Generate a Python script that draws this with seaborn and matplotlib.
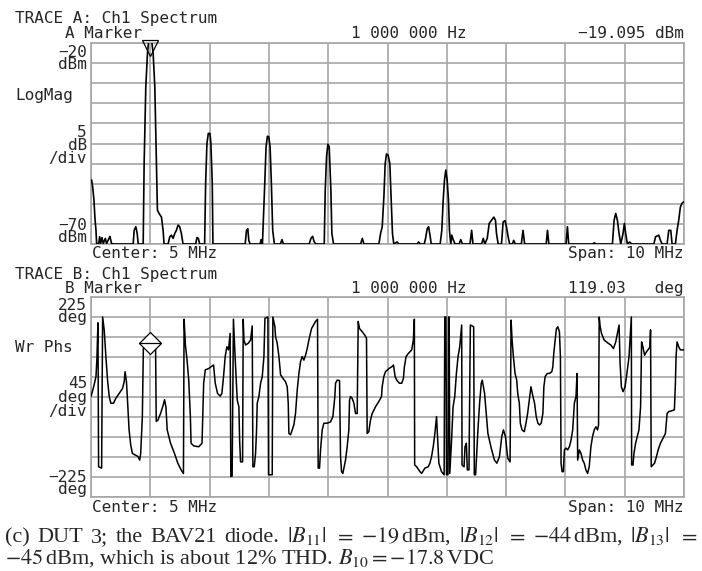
import numpy as np
import pandas as pd
import matplotlib
matplotlib.use("Agg")
import matplotlib.pyplot as plt
import seaborn as sns

# Trace A: spectrum magnitude (MHz, dBm)
freq_a = [0.0, 0.011, 0.028, 0.05, 0.067, 0.084, 0.095, 0.129, 0.146, 0.162, 0.185, 0.207, 0.241, 0.263,
          0.319, 0.347, 0.403, 0.711, 0.728, 0.756, 0.779, 0.796, 0.88, 0.896, 0.924, 0.952, 0.975, 1.02,
          1.048, 1.076, 1.104, 1.12, 1.148, 1.188, 1.216, 1.232, 1.30, 1.328, 1.356, 1.384, 1.412, 1.44,
          1.468, 1.496, 1.524, 1.552, 1.765, 1.787, 1.81, 1.832, 1.916, 1.933, 1.955, 1.978, 2.006, 2.022,
          2.045, 2.056, 2.6, 2.622, 2.644, 2.661, 2.683, 2.852, 2.868, 2.891, 2.93, 2.952, 2.975, 2.997,
          3.02, 3.042, 3.064, 3.092, 3.193, 3.221, 3.244, 3.68, 3.709, 3.737, 3.765, 3.793, 3.933, 3.95,
          3.972, 3.994, 4.017, 4.045, 4.062, 4.09, 4.547, 4.575, 4.603, 4.855, 4.883, 4.911, 4.939, 4.961,
          4.983, 5.011, 5.039, 5.061, 5.084, 5.106, 5.162, 5.19, 5.497, 5.525, 5.553, 5.62, 5.642, 5.67,
          5.693, 5.721, 5.737, 5.888, 5.916, 5.939, 5.961, 5.983, 6.006, 6.028, 6.045, 6.067, 6.084, 6.112,
          6.14, 6.207, 6.235, 6.263, 6.391, 6.419, 6.441, 6.587, 6.615, 6.642, 6.682, 6.715, 6.754, 6.793,
          6.821, 6.838, 6.866, 6.922, 6.95, 6.983, 7.006, 7.034, 7.061, 7.106, 7.128, 7.156, 7.257, 7.285,
          7.313, 7.676, 7.698, 7.721, 8.011, 8.034, 8.056, 8.458, 8.486, 8.514, 8.793, 8.821, 8.849, 8.877,
          8.905, 8.933, 8.972, 8.994, 9.017, 9.045, 9.084, 9.117, 9.492, 9.52, 9.575, 9.603, 9.631, 9.715,
          9.743, 9.777, 9.799, 9.855, 9.883, 9.911, 9.939, 9.966, 10.0]
mag_a = [-54.1, -54.1, -55.8, -59.1, -63.7, -66.6, -69.9, -69.9, -68.2, -69.9, -68.4, -69.9, -68.6, -69.9,
         -68.1, -69.9, -70, -70, -66.6, -65.7, -67.4, -70, -70, -50, -30.9, -22.6, -19.1, -19.1,
         -22.6, -30.9, -50, -61.6, -62.4, -63.3, -66.6, -70, -70, -68.2, -67.8, -68.6, -67.4, -66.6,
         -65.3, -65.7, -67.4, -70, -70, -68.4, -68.6, -70, -70, -55, -45, -42.5, -42.5, -45,
         -55, -70, -70, -66.6, -66.2, -69.1, -70, -70, -68.9, -70, -55, -45.8, -43.2, -43.3,
         -45.8, -55, -66.6, -70, -70, -68.9, -70, -70, -68.6, -68.1, -69.5, -70, -70, -56.6,
         -48.3, -45.2, -45.8, -56.6, -67.4, -70, -70, -68.6, -70, -70, -67.4, -65.7, -58.3, -50,
         -47.6, -47.9, -50, -58.3, -67.4, -70, -69.5, -70, -70, -69.5, -70, -70, -68.6, -66.2,
         -65.7, -68.2, -70, -70, -66.6, -59.1, -54.1, -51.6, -54.1, -59.1, -66.6, -70, -67.8, -69.1,
         -70, -70, -68.9, -70, -70, -66.6, -70, -70, -68.6, -70, -68.6, -64.9, -64.1, -63.3,
         -64.1, -67.4, -70, -70, -64.5, -64.2, -65.7, -68.2, -70, -70, -69.1, -70, -70, -66.6,
         -70, -70, -66.6, -70, -70, -65.7, -70, -70, -69.7, -70, -70, -64.1, -62.4, -64.1,
         -67.4, -70, -67.4, -64.9, -67.4, -70, -69.5, -70, -70, -68.2, -67.8, -69.1, -70, -70,
         -66.6, -66.6, -70, -70, -66.6, -64.1, -60.8, -59.9, -59.5]

# Trace B: wrapped phase (MHz, deg)
freq_b = [0.0, 0.045, 0.084, 0.10, 0.117, 0.128, 0.179, 0.196, 0.223, 0.251, 0.279, 0.307, 0.335, 0.38,
          0.419, 0.475, 0.531, 0.559, 0.575, 0.598, 0.615, 0.642, 0.670, 0.698, 0.754, 0.793, 0.821, 0.838,
          0.866, 0.883, 0.94, 1.0, 1.089, 1.10, 1.128, 1.173, 1.218, 1.24, 1.263, 1.285, 1.341, 1.408,
          1.464, 1.52, 1.559, 1.57, 1.592, 1.62, 1.648, 1.676, 1.687, 1.732, 1.816, 1.872, 1.9, 1.927,
          1.983, 2.067, 2.095, 2.134, 2.179, 2.207, 2.235, 2.263, 2.291, 2.318, 2.346, 2.358, 2.38, 2.402,
          2.43, 2.466, 2.494, 2.506, 2.522, 2.556, 2.567, 2.579, 2.607, 2.652, 2.691, 2.719, 2.73, 2.753,
          2.775, 2.792, 2.803, 2.831, 2.86, 2.888, 2.916, 2.933, 2.983, 2.994, 3.056, 3.067, 3.101, 3.112,
          3.14, 3.169, 3.197, 3.236, 3.281, 3.309, 3.326, 3.337, 3.365, 3.393, 3.421, 3.449, 3.478, 3.506,
          3.534, 3.562, 3.59, 3.618, 3.646, 3.674, 3.719, 3.787, 3.82, 3.831, 3.854, 3.871, 3.899, 3.927,
          3.983, 4.039, 4.079, 4.112, 4.124, 4.152, 4.191, 4.208, 4.225, 4.247, 4.292, 4.32, 4.348, 4.36,
          4.376, 4.404, 4.433, 4.461, 4.489, 4.506, 4.528, 4.573, 4.618, 4.646, 4.657, 4.685, 4.713, 4.742,
          4.798, 4.854, 4.899, 4.91, 4.938, 4.966, 5.034, 5.073, 5.101, 5.128, 5.156, 5.201, 5.24, 5.268,
          5.285, 5.313, 5.352, 5.38, 5.408, 5.436, 5.453, 5.458, 5.492, 5.547, 5.575, 5.631, 5.687, 5.715,
          5.743, 5.771, 5.799, 5.827, 5.844, 5.866, 5.911, 5.955, 5.966, 5.985, 5.995, 6.02, 6.03, 6.04,
          6.05, 6.078, 6.106, 6.134, 6.162, 6.19, 6.218, 6.235, 6.251, 6.257, 6.291, 6.307, 6.33, 6.346,
          6.374, 6.397, 6.453, 6.464, 6.486, 6.508, 6.525, 6.553, 6.581, 6.598, 6.637, 6.665, 6.693, 6.749,
          6.804, 6.844, 6.888, 6.927, 6.955, 6.989, 7.028, 7.067, 7.084, 7.101, 7.123, 7.151, 7.179, 7.196,
          7.223, 7.24, 7.268, 7.307, 7.335, 7.363, 7.391, 7.419, 7.453, 7.48, 7.508, 7.536, 7.564, 7.592,
          7.62, 7.637, 7.659, 7.693, 7.732, 7.771, 7.788, 7.804, 7.827, 7.849, 7.872, 7.899, 7.916, 7.927,
          7.944, 7.966, 7.983, 8.011, 8.039, 8.067, 8.095, 8.123, 8.151, 8.179, 8.196, 8.207, 8.235, 8.263,
          8.291, 8.318, 8.346, 8.374, 8.402, 8.43, 8.458, 8.486, 8.514, 8.542, 8.559, 8.57, 8.587, 8.609,
          8.654, 8.721, 8.765, 8.81, 8.849, 8.888, 8.905, 8.922, 8.944, 8.972, 9.006, 9.045, 9.073, 9.089,
          9.112, 9.117, 9.14, 9.156, 9.184, 9.212, 9.24, 9.268, 9.285, 9.307, 9.335, 9.369, 9.408, 9.425,
          9.436, 9.447, 9.503, 9.536, 9.564, 9.603, 9.659, 9.687, 9.715, 9.743, 9.838, 9.855, 9.866, 9.883,
          9.911, 9.939, 10.0]
phase_b = [1, 23, 46, 87, 167, -157, -160, 180, 151, 91, 38, 1, -14, -14,
           -3, 8, 19, 34, 57, 34, -6, -74, -108, -127, -131, -134, -142, -127,
           -44, 110, 114, 119, 112, -55, -52, -37, -18, -6, -22, -74, -104, -127,
           -149, -164, -172, 175, 117, 83, 38, -44, -104, -110, -112, -104, 31, 61,
           64, 72, 31, 8, 2, 8, 46, 91, 113, 106, 143, -179, -178, 175,
           91, -7, -22, -97, -146, -146, 175, 128, 117, 121, 128, 160, -157, -157,
           -127, -74, -14, 1, 31, 46, 91, 177, 180, -175, -175, 180, 158, 136,
           121, 91, 50, 42, 34, 23, -14, -82, -85, -74, -63, -37, 16, 53,
           80, 91, 83, 94, 109, 128, 154, 170, 175, -160, -160, -119, -74, -59,
           -59, -56, -44, 1, 31, 38, 37, -134, -168, -172, -142, -112, -74, -7,
           1, -3, -14, -37, -37, 170, 154, 147, 139, 132, -82, -78, -52, -37,
           -22, -10, 1, 23, 46, 57, 65, 68, 72, 46, 38, 31, 31, 42,
           68, 91, 98, 102, 106, 128, 175, -153, -157, -168, -172, -160, -157, -149,
           -134, -112, -82, -44, -89, -149, -168, -175, 180, 180, -175, -175, 180, 180,
           -172, -104, -22, 1, 53, 91, 113, 139, 162, -153, -157, -112, -104, -164,
           -164, 162, 158, -175, -175, -119, -74, -14, 31, 38, 8, -37, -82, -115,
           -142, -149, -134, -89, -74, -89, -138, -146, 173, 128, 91, 53, 38, 8,
           -14, -59, -74, -78, -59, -37, -7, 23, 1, -14, -44, -59, -63, -59,
           -37, 23, 46, 53, 53, 57, 68, 98, 128, 154, 158, 147, 91, -149,
           -168, -168, -119, -115, -119, -112, -97, -74, -14, 1, 53, -142, -119, -127,
           -142, -149, -164, -172, -157, -112, -89, -74, -67, -74, -63, 180, 158, 143,
           128, 121, 117, 109, 124, 151, 162, 76, 23, 12, 23, 61, 91, 128,
           180, -153, -153, -127, -104, -89, -74, -22, 124, 113, 94, 102, 109, 113,
           151, -157, -149, -134, -119, -104, -89, -82, -37, -33, -29, 31, 91, 124,
           113, 106, 106]

marker_freq = 1.0
marker_mag = -21.2
marker_phase = 121

sns.set_style("white")
plt.rcParams['font.family'] = ['DejaVu Sans Mono']
plt.rcParams['mathtext.fontset'] = 'stix'

W, H = 702, 571
fig = plt.figure(figsize=(W / 100, H / 100), dpi=100)

def px_axes(left, top, right, bottom):
    return fig.add_axes([left / W, 1 - bottom / H, (right - left) / W, (bottom - top) / H])

grid_col = '#a6a6a6'

def style_axes(ax, ylo, yhi):
    ax.set_xlim(0, 10)
    ax.set_ylim(ylo, yhi)
    ax.set_xticks(np.arange(0, 11, 1))
    ax.set_yticks(np.linspace(ylo, yhi, 11))
    ax.set_xticklabels([])
    ax.set_yticklabels([])
    ax.tick_params(length=0)
    ax.grid(True, color=grid_col, lw=1.2)
    ax.set_axisbelow(True)
    for s in ax.spines.values():
        s.set_color(grid_col)
        s.set_linewidth(1.2)
    ax.set_xlabel("")
    ax.set_ylabel("")

# top panel: LogMag
ax1 = px_axes(91, 43, 684, 244)
df_a = pd.DataFrame({"freq": freq_a, "mag": mag_a})
sns.lineplot(data=df_a, x="freq", y="mag", ax=ax1, color="black", lw=1.2,
             sort=False, estimator=None, zorder=3)
ax1.plot([marker_freq], [marker_mag], marker="v", ms=11, mfc="none", mec="black",
         mew=0.9, clip_on=False, zorder=4)
style_axes(ax1, -70, -20)

# bottom panel: wrapped phase
ax2 = px_axes(91, 297, 684, 497)
df_b = pd.DataFrame({"freq": freq_b, "phase": phase_b})
sns.lineplot(data=df_b, x="freq", y="phase", ax=ax2, color="black", lw=1.1,
             sort=False, estimator=None, zorder=3)
ax2.plot([marker_freq], [marker_phase], marker="D", ms=11, mfc="white", mec="black", mew=0.9, zorder=4)
ax2.plot([marker_freq], [marker_phase], marker="_", ms=16, mec="black", mew=0.9, zorder=4)
style_axes(ax2, -225, 225)

MONO = 11.5
em = MONO * 100 / 72

def t(x, y, s, ha="left", size=MONO, **kw):
    return fig.text(x / W, 1 - y / H, s, ha=ha, va="baseline", fontsize=size, **kw)

def stack(x, y_first, lines, step):
    # right-aligned block of stacked labels, first baseline at y_first
    ls = (step - 0.208 * em) / (0.76 * em)
    top = y_first - 0.76 * em
    fig.text(x / W, 1 - top / H, "\n".join(lines), ha="right", va="top",
             multialignment="right", fontsize=MONO, linespacing=ls)

# header / labels for trace A
t(15, 23, "TRACE A: Ch1 Spectrum")
t(65, 38, "A Marker")
t(351, 38, "1 000 000 Hz")
t(684, 38, "\u221219.095 dBm", ha="right")
stack(87, 57, ["\u221220", "dBm"], 12.5)
t(15, 100, "LogMag")
stack(87, 137, ["5", "dB", "/div"], 13.5)
stack(87, 230, ["\u221270", "dBm"], 12.5)
t(92, 258, "Center: 5 MHz")
t(684, 258, "Span: 10 MHz", ha="right")

# header / labels for trace B
t(15, 279, "TRACE B: Ch1 Spectrum")
t(65, 293, "B Marker")
t(351, 293, "1 000 000 Hz")
t(684, 293, "119.03   deg", ha="right")
stack(87, 310, ["225", "deg"], 13)
t(15, 352, "Wr Phs")
stack(87, 388, ["45", "deg", "/div"], 14.5)
stack(87, 482, ["\u2212225", "deg"], 13)
t(92, 512, "Center: 5 MHz")
t(684, 512, "Span: 10 MHz", ha="right")

# caption, first line justified across the width
CAP = 16
cap_words = ["(c)", "DUT", "3;", "the", "BAV21", "diode.", r"$|B_{11}|$", r"$=$",
             r"$-19\,$dBm,", r"$|B_{12}|$", r"$=$", r"$-44\,$dBm,", r"$|B_{13}|$", r"$=$"]
cap2 = r"$-45\,$dBm, which is about 12% THD. $B_{10} = -17.8\,$VDC"
renderer = fig.canvas.get_renderer()
objs = [t(0, 542, w, size=CAP, family="Liberation Serif") for w in cap_words]
widths = [o.get_window_extent(renderer).width for o in objs]
x0, x1 = 5, 697
gap = (x1 - x0 - sum(widths)) / (len(objs) - 1)
xpos = x0
for o, w in zip(objs, widths):
    o.set_x(xpos / W)
    xpos += w + gap
t(5, 564, cap2, size=CAP, family="Liberation Serif")

fig.savefig("out.png", dpi=100)
